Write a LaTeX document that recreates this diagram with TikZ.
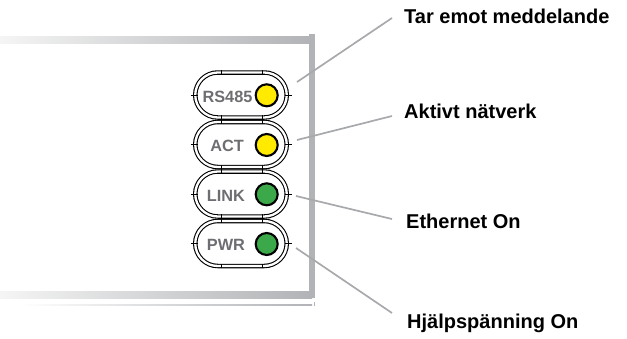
\documentclass[tikz,border=0pt]{standalone}
\usepackage{fontspec}
\setmainfont{Liberation Sans}
\usetikzlibrary{shapes.misc}
\definecolor{panelgray}{HTML}{B1B3B6}
\definecolor{labelgray}{HTML}{6D6E71}
\definecolor{linegray}{HTML}{A7A9AC}
\definecolor{ledyellow}{HTML}{FFEA00}
\definecolor{ledgreen}{HTML}{3BA84A}
\tikzset{
  capsule/.style={rounded rectangle, draw=black, line width=1.1pt, double=white,
    double distance=2.3pt, minimum width=91.5pt, minimum height=45pt, inner sep=0pt},
  led/.style={circle, draw=black, line width=2.1pt, minimum size=22pt, inner sep=0pt},
  ledlabel/.style={text=labelgray, font=\bfseries\fontsize{16.3}{17}\selectfont, inner sep=0pt},
  calloutlabel/.style={text=black, font=\bfseries\fontsize{20}{22}\selectfont, anchor=base west, inner sep=0pt},
  callout/.style={draw=linegray, line width=1.7pt},
  tick/.style={draw=black, line width=0.9pt}
}
\begin{document}
\begin{tikzpicture}[x=1pt,y=-1pt]
\useasboundingbox (0,0) rectangle (627,338);
% panel
\shade[left color=white!96!black, right color=panelgray] (0,36) rectangle (312,43);
\shade[left color=white!96!black, right color=panelgray] (0,291) rectangle (312,298);
\fill[panelgray] (309,34) rectangle (315,298);
\shade[left color=white, right color=panelgray] (20,304.6) rectangle (312,305.6);
\draw[panelgray, line width=0.6pt] (314,302) -- (314,305.5);
% capsules
\foreach \n/\y in {c1/95, c2/144.5, c3/194, c4/243.5}{
  \node[capsule] (\n) at (241,\y) {};
  \draw[tick] (221,\y-24.6) -- (221,\y-20.4);
  \draw[tick] (262,\y-24.6) -- (262,\y-20.4);
  \draw[tick] (221,\y+24.6) -- (221,\y+20.4);
  \draw[tick] (262,\y+24.6) -- (262,\y+20.4);
  \draw[tick] (190.5,\y) -- (197.5,\y);
  \draw[tick] (284.5,\y) -- (291.5,\y);
}
% labels and leds
\node[ledlabel] (l1) at (227.5,96.5) {RS485};
\node[ledlabel] (l2) at (227,146) {ACT};
\node[ledlabel] (l3) at (226,195.5) {LINK};
\node[ledlabel] (l4) at (226,245) {PWR};
\node[led, fill=ledyellow] (d1) at (266.7,95.3) {};
\node[led, fill=ledyellow] (d2) at (266.7,145) {};
\node[led, fill=ledgreen] (d3) at (266.7,194.3) {};
\node[led, fill=ledgreen] (d4) at (266.7,244) {};
% callout labels
\node[calloutlabel] (t1) at (404,23) {Tar emot meddelande};
\node[calloutlabel] (t2) at (404,118) {Aktivt nätverk};
\node[calloutlabel] (t3) at (406,228) {Ethernet On};
\node[calloutlabel] (t4) at (407,328) {Hjälpspänning On};
% connectors
\coordinate (s1) at (297,82);  \coordinate (e1) at (392,18);
\coordinate (s2) at (297,140); \coordinate (e2) at (392,116);
\coordinate (s3) at (296,196); \coordinate (e3) at (392,219);
\coordinate (s4) at (296,248); \coordinate (e4) at (392,313);
\draw[callout] (s1) -- (e1);
\draw[callout] (s2) -- (e2);
\draw[callout] (s3) -- (e3);
\draw[callout] (s4) -- (e4);
\end{tikzpicture}
\end{document}
